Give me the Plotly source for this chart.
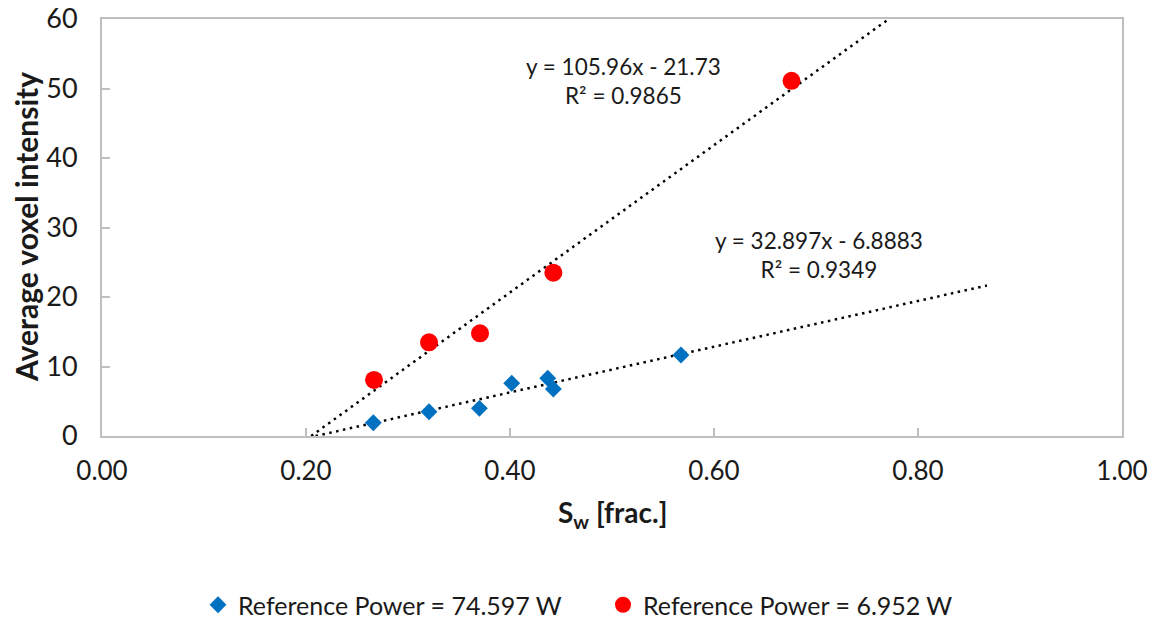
import plotly.graph_objects as go

# Data
sw_high = [0.266, 0.3206, 0.370, 0.4017, 0.437, 0.4425, 0.5676]
vi_high = [1.91, 3.50, 3.98, 7.58, 8.30, 6.76, 11.65]
sw_low = [0.2667, 0.3206, 0.3706, 0.4425, 0.676]
vi_low = [8.06, 13.48, 14.77, 23.5, 51.1]

name_high = "Reference Power = 74.597 W"
name_low = "Reference Power = 6.952 W"

# Trendline coefficients (as labelled)
slope_high, icpt_high, r2_high = 32.897, -6.8883, 0.9349
slope_low, icpt_low, r2_low = 105.96, -21.73, 0.9865

x_ticks = [0.0, 0.2, 0.4, 0.6, 0.8, 1.0]
y_ticks = [0, 10, 20, 30, 40, 50, 60]

FONT = "Lato"
GRAY = "#BFBFBF"
TXT = "#1a1a1a"

W, H = 1148, 614  # page body has an 8px margin in the 1156x622 window

def trend(slope, icpt, xs, fwd=0.3):
    x0 = -icpt / slope
    x1 = max(xs) + fwd
    return [x0, x1], [slope * x0 + icpt, slope * x1 + icpt]

fig = go.Figure()

tx, ty = trend(slope_high, icpt_high, sw_high)
fig.add_trace(go.Scatter(x=tx, y=ty, mode="lines", showlegend=False,
                         line=dict(color="black", width=2.5, dash="2.5px,4.5px"),
                         hoverinfo="skip"))
tx, ty = trend(slope_low, icpt_low, sw_low)
fig.add_trace(go.Scatter(x=tx, y=ty, mode="lines", showlegend=False,
                         line=dict(color="black", width=2.5, dash="2.5px,4.5px"),
                         hoverinfo="skip"))

fig.add_trace(go.Scatter(x=sw_high, y=vi_high, mode="markers", name=name_high,
                         marker=dict(symbol="diamond", size=13, color="#0070C0")))
fig.add_trace(go.Scatter(x=sw_low, y=vi_low, mode="markers", name=name_low,
                         marker=dict(symbol="circle", size=18, color="#FF0000")))

fig.add_annotation(x=0.511, y=51.1, xref="x", yref="y", showarrow=False,
                   text=f"y = {slope_low}x - {abs(icpt_low)}<br>R² = {r2_low}",
                   font=dict(family=FONT, size=22.5, color=TXT), align="center")
fig.add_annotation(x=0.7025, y=26.1, xref="x", yref="y", showarrow=False,
                   text=f"y = {slope_high}x - {abs(icpt_high)}<br>R² = {r2_high}",
                   font=dict(family=FONT, size=22.5, color=TXT), align="center")

# Axis titles
fig.add_annotation(x=-0.075, y=0.5, xref="paper", yref="paper", showarrow=False,
                   text="<b>Average voxel intensity</b>", textangle=-90,
                   font=dict(family=FONT, size=30, color=TXT),
                   xanchor="center", yanchor="middle")
fig.add_annotation(x=0.5, y=(436 - 514) / 417, xref="paper", yref="paper", showarrow=False,
                   text="<b>S<sub>w</sub> [frac.]</b>",
                   font=dict(family=FONT, size=28, color=TXT),
                   xanchor="center", yanchor="middle")

fig.update_layout(
    width=W, height=H,
    margin=dict(l=94, r=34, t=11, b=186, autoexpand=False),
    paper_bgcolor="white", plot_bgcolor="white",
    font=dict(family=FONT, size=19, color=TXT),
    showlegend=True,
    legend=dict(orientation="h", xref="container", yref="container",
                x=190 / W, xanchor="left",
                y=1 - 597 / H, yanchor="middle",
                font=dict(family=FONT, size=25, color=TXT),
                itemwidth=30, entrywidth=360, traceorder="normal"),
    xaxis=dict(range=[0, 1], tickvals=x_ticks, tickformat=".2f",
               automargin=False, ticklabeloverflow="allow",
               showgrid=False, zeroline=False,
               showline=True, mirror=True, linecolor=GRAY, linewidth=2,
               ticks="inside", ticklen=8, tickcolor=GRAY, tickwidth=2,
               ticklabelstandoff=11,
               tickfont=dict(family=FONT, size=26, color=TXT)),
    yaxis=dict(range=[0, 60], tickvals=y_ticks,
               automargin=False, ticklabeloverflow="allow",
               showgrid=False, zeroline=False,
               showline=True, mirror=True, linecolor=GRAY, linewidth=2,
               ticks="inside", ticklen=8, tickcolor=GRAY, tickwidth=2,
               ticklabelstandoff=17,
               tickfont=dict(family=FONT, size=27, color=TXT)),
)

fig.write_html("out.html")
